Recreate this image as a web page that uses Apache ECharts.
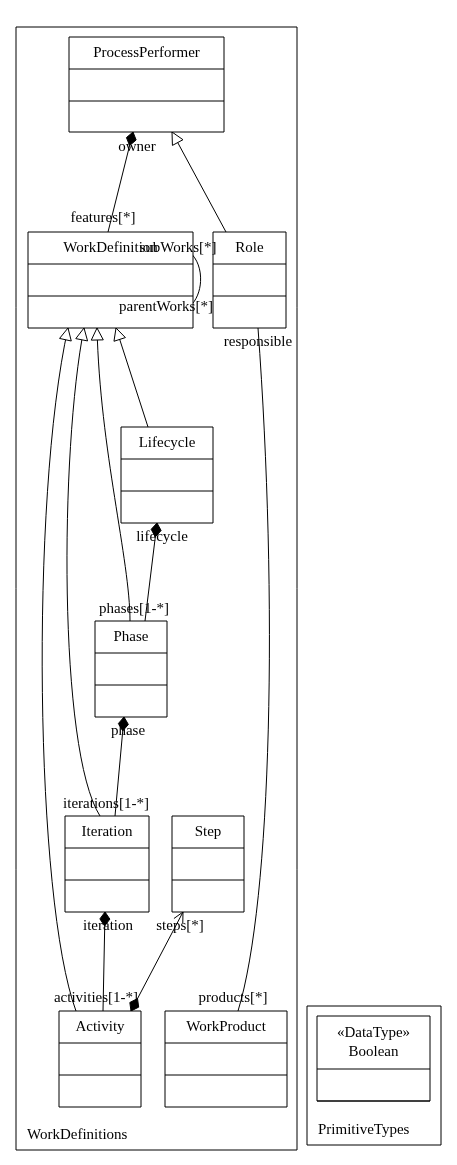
<!DOCTYPE html>
<html><head><meta charset="utf-8">
<script src="https://cdn.jsdelivr.net/npm/echarts@6/dist/echarts.min.js"></script>
<style>html,body{margin:0;padding:0;background:#fff}#main{width:457px;height:1165px}</style>
</head><body><div id="main"></div>
<script>
// class boxes: name, x, y, w, h (name compartment height)
var classNames = ['ProcessPerformer','WorkDefinition','Role','Lifecycle','Phase','Iteration','Step','Activity','WorkProduct','«DataType»\nBoolean'];
var classBoxes = [
  [69,37,155,95,32],[28,232,165,96,32],[213,232,73,96,32],[121,427,92,96,32],
  [95,621,72,96,32],[65,816,84,96,32],[172,816,72,96,32],[59,1011,82,96,32],
  [165,1011,122,96,32],[317,1016,113,85,53]
];
// package frames: x, y, w, h, label
var packages = [[16,27,281,1123,'WorkDefinitions'],[307,1006,134,139,'PrimitiveTypes']];
// edges: points (2 = line, 4 = cubic), end marker at last point, start marker at first point
var edgePoints = [
  [[108,232],[133,132]],
  [[226,232],[172,132]],
  [[168,248],[212,238],[212,322],[165,312]],
  [[258,328],[278,600],[272,900],[238,1011]],
  [[148,427],[116,328]],
  [[130,621],[130,560],[100,450],[97,328]],
  [[100,816],[58,750],[60,450],[84,328]],
  [[76,1011],[35,900],[30,500],[68,328]],
  [[145,621],[157,523]],
  [[115,816],[124,717]],
  [[103,1011],[105,912]],
  [[131,1011],[183,912]]
];
var edgeEnd = ['diamond','triangle','none','none','triangle','triangle','triangle','triangle','diamond','diamond','diamond','arrow'];
var edgeStart = ['none','none','none','none','none','none','none','none','none','none','none','diamond'];
// role labels: text, x, y (centre)
var roleLabels = [
  ['owner',137,147],['features[*]',103,218],['subWorks[*]',178,248],['parentWorks[*]',166,307],
  ['responsible',258,342],['products[*]',233,998],['lifecycle',162,537],['phases[1-*]',134,609],
  ['phase',128,731],['iterations[1-*]',106,804],['iteration',108,926],['activities[1-*]',96,998],
  ['steps[*]',180,926]
];
var FONT = '"Liberation Serif", "DejaVu Serif", serif';

function marker(kind, tip, from) {
  if (kind === 'none') return null;
  var dx = tip[0]-from[0], dy = tip[1]-from[1], L = Math.sqrt(dx*dx+dy*dy);
  var ux = dx/L, uy = dy/L, px = -uy, py = ux;
  if (kind === 'diamond') {
    var a = 14, w = 5;
    var m = [tip[0]-ux*a/2, tip[1]-uy*a/2];
    return {type:'polygon', shape:{points:[tip,[m[0]+px*w,m[1]+py*w],[tip[0]-ux*a,tip[1]-uy*a],[m[0]-px*w,m[1]-py*w]]},
      style:{fill:'#000',stroke:'#000'}};
  }
  if (kind === 'triangle') {
    var a2 = 12, w2 = 6, b = [tip[0]-ux*a2, tip[1]-uy*a2];
    return {type:'polygon', shape:{points:[tip,[b[0]+px*w2,b[1]+py*w2],[b[0]-px*w2,b[1]-py*w2]]},
      style:{fill:'#fff',stroke:'#000',lineWidth:1}};
  }
  var a3 = 10, w3 = 5, b3 = [tip[0]-ux*a3, tip[1]-uy*a3];
  return {type:'polyline', shape:{points:[[b3[0]+px*w3,b3[1]+py*w3],tip,[b3[0]-px*w3,b3[1]-py*w3]]},
    style:{fill:null,stroke:'#000',lineWidth:1}};
}

var myChart = echarts.init(document.getElementById('main'));
var option = {
  animation:false,
  grid:{left:0,right:0,top:0,bottom:0},
  xAxis:{type:'value',min:0,max:457,show:false},
  yAxis:{type:'value',min:0,max:1165,inverse:true,show:false},
  series:[
    {
      type:'custom', data:packages.map(function(p,i){return [p[0],p[1],i];}),
      renderItem:function(params, api){
        var p = packages[params.dataIndex];
        var a = api.coord([p[0],p[1]]), b = api.coord([p[0]+p[2],p[1]+p[3]]);
        return {type:'group',children:[
          {type:'rect',shape:{x:a[0],y:a[1],width:b[0]-a[0],height:b[1]-a[1]},style:{fill:'#fff',stroke:'#000',lineWidth:1}},
          {type:'text',style:{text:p[4],x:a[0]+11,y:b[1]-15,verticalAlign:'middle',font:'15px '+FONT,fill:'#000'}}
        ]};
      }
    },
    {
      type:'custom', data:edgePoints.map(function(e,i){return [e[0][0],e[0][1],i];}),
      renderItem:function(params, api){
        var i = params.dataIndex;
        var pts = edgePoints[i].map(function(q){return api.coord(q);});
        var ch = [];
        if (pts.length === 2) {
          ch.push({type:'line',shape:{x1:pts[0][0],y1:pts[0][1],x2:pts[1][0],y2:pts[1][1]},style:{stroke:'#000',lineWidth:1}});
        } else {
          ch.push({type:'bezierCurve',shape:{x1:pts[0][0],y1:pts[0][1],cpx1:pts[1][0],cpy1:pts[1][1],cpx2:pts[2][0],cpy2:pts[2][1],x2:pts[3][0],y2:pts[3][1]},
            style:{fill:null,stroke:'#000',lineWidth:1}});
        }
        var n = pts.length;
        var e = marker(edgeEnd[i], pts[n-1], pts[n-2]); if (e) ch.push(e);
        var s = marker(edgeStart[i], pts[0], pts[1]); if (s) ch.push(s);
        return {type:'group',children:ch};
      }
    },
    {
      type:'custom', data:classBoxes.map(function(c,i){return [c[0],c[1],i];}),
      renderItem:function(params, api){
        var i = params.dataIndex, c = classBoxes[i];
        var a = api.coord([c[0],c[1]]), b = api.coord([c[0]+c[2],c[1]+c[3]]);
        var l1 = api.coord([0,c[1]+c[4]])[1], l2 = api.coord([0,c[1]+c[4]+32])[1];
        return {type:'group',children:[
          {type:'rect',shape:{x:a[0],y:a[1],width:b[0]-a[0],height:b[1]-a[1]},style:{fill:'#fff',stroke:'#000',lineWidth:1}},
          {type:'line',shape:{x1:a[0],y1:l1,x2:b[0],y2:l1},style:{stroke:'#000',lineWidth:1}},
          {type:'line',shape:{x1:a[0],y1:l2,x2:b[0],y2:l2},style:{stroke:'#000',lineWidth:1}},
          {type:'text',style:{text:classNames[i],x:(a[0]+b[0])/2,y:(a[1]+l1)/2,align:'center',verticalAlign:'middle',lineHeight:19,font:'15px '+FONT,fill:'#000'}}
        ]};
      },
      z:3
    },
    {
      type:'custom', data:roleLabels.map(function(r){return [r[1],r[2]];}), z:5,
      renderItem:function(params, api){
        var r = roleLabels[params.dataIndex], p = api.coord([r[1],r[2]]);
        return {type:'text',style:{text:r[0],x:p[0],y:p[1],align:'center',verticalAlign:'middle',font:'15px '+FONT,fill:'#000'}};
      }
    }
  ]
};
myChart.setOption(option);
</script>
</body></html>
